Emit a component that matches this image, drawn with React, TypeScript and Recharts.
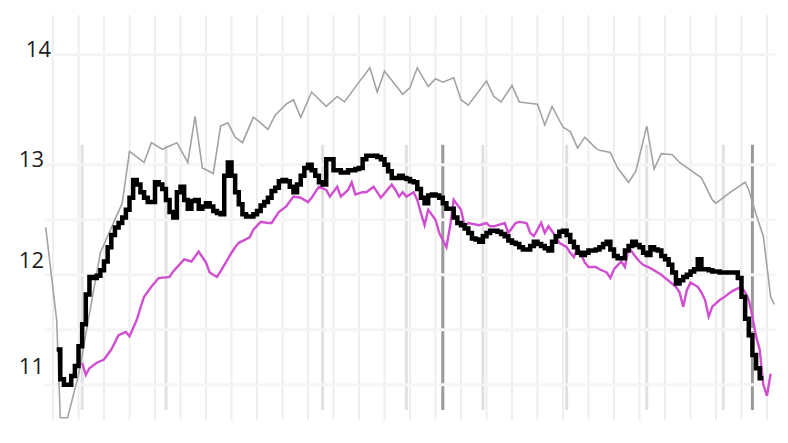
import React from "react";
import { LineChart, Line, XAxis, YAxis, ReferenceLine } from "recharts";

// y-axis tick labels
const yTicks = [11, 12, 13, 14];
// horizontal guide values
const hGrid = [11, 11.5, 12, 12.5, 13, 14];
// weekly vertical grid (day index)
const weekDays = [0, 7, 14, 21, 28, 35, 42, 49, 56, 63, 70, 77, 84, 91, 98, 105, 112, 119, 126, 133, 140, 147, 154, 161, 168, 175, 182, 189, 196];
// event markers (day index)
const lightMarkers = [8, 31, 74, 97, 118, 141, 163, 184];
const darkMarkers = [107, 192];

// grey series
const grayDays = [-2, 1, 2, 4, 7, 13, 19, 21, 25, 27, 30, 34, 37, 39, 41, 44, 46, 48, 50, 52, 55, 57, 59, 61, 64, 66, 68, 71, 75, 78, 80, 84, 87, 89, 91, 96, 98, 100, 103, 105, 107, 110, 112, 114, 119, 121, 123, 126, 128, 133, 135, 137, 140, 142, 144, 146, 149, 150, 153, 155, 158, 160, 163, 165, 167, 170, 172, 178, 181, 182, 186, 190, 191, 193, 195, 197, 198];
const grayValues = [12.43, 11.59, 10.7, 10.7, 11.09, 12.2, 12.65, 13.12, 13.02, 13.2, 13.14, 13.2, 13.02, 13.44, 12.97, 12.92, 13.35, 13.38, 13.25, 13.2, 13.43, 13.38, 13.32, 13.45, 13.55, 13.59, 13.43, 13.66, 13.53, 13.62, 13.57, 13.75, 13.88, 13.66, 13.85, 13.64, 13.7, 13.88, 13.71, 13.78, 13.75, 13.79, 13.59, 13.54, 13.76, 13.62, 13.57, 13.72, 13.57, 13.55, 13.36, 13.53, 13.34, 13.3, 13.15, 13.25, 13.15, 13.13, 13.11, 12.97, 12.84, 12.94, 13.35, 12.96, 13.1, 13.09, 13.02, 12.88, 12.68, 12.65, 12.75, 12.84, 12.77, 12.55, 12.35, 11.8, 11.73];

// black step series (days 1..195)
const blackStartDay = 1;
const blackValues = [
  11.32, 11.05, 11.0, 11.0, 11.08, 11.17, 11.35, 11.55, 11.82, 11.98,
  11.97, 11.99, 12.04, 12.12, 12.25, 12.36, 12.43, 12.47, 12.52, 12.59,
  12.7, 12.86, 12.82, 12.75, 12.7, 12.66, 12.66, 12.84, 12.82, 12.78,
  12.68, 12.57, 12.52, 12.75, 12.8, 12.68, 12.6, 12.67, 12.68, 12.6,
  12.62, 12.65, 12.62, 12.58, 12.56, 12.55, 12.9, 13.02, 12.9, 12.75,
  12.64, 12.55, 12.53, 12.53, 12.55, 12.58, 12.63, 12.66, 12.7, 12.76,
  12.79, 12.85, 12.86, 12.85, 12.8, 12.75, 12.82, 12.9, 12.97, 13.0,
  12.95, 12.9, 12.84, 12.82, 13.05, 13.05, 12.95, 12.95, 12.93, 12.93,
  12.95, 12.95, 12.96, 12.97, 13.05, 13.08, 13.08, 13.08, 13.07, 13.05,
  13.0, 12.94, 12.88, 12.88, 12.9, 12.88, 12.87, 12.85, 12.84, 12.78,
  12.7, 12.65, 12.72, 12.73, 12.72, 12.7, 12.65, 12.6, 12.6, 12.52,
  12.47, 12.45, 12.42, 12.38, 12.33, 12.32, 12.3, 12.35, 12.38, 12.4,
  12.4, 12.39, 12.37, 12.35, 12.31, 12.29, 12.28, 12.25, 12.23, 12.23,
  12.26, 12.3, 12.28, 12.26, 12.24, 12.22, 12.3, 12.35, 12.39, 12.4,
  12.36, 12.3, 12.25, 12.2, 12.18, 12.2, 12.22, 12.22, 12.23, 12.25,
  12.28, 12.3, 12.23, 12.17, 12.15, 12.15, 12.22, 12.26, 12.3, 12.27,
  12.25, 12.2, 12.18, 12.25, 12.23, 12.22, 12.17, 12.14, 12.09, 12.02,
  11.92, 11.95, 11.98, 12.0, 12.03, 12.05, 12.14, 12.05, 12.05, 12.04,
  12.03, 12.03, 12.02, 12.02, 12.02, 12.02, 12.02, 11.97, 11.8, 11.6,
  11.45, 11.27, 11.15, 11.06, 11.06,
];

// magenta series
const magentaDays = [8, 9, 10, 12, 14, 16, 18, 20, 21, 23, 24, 25, 27, 29, 32, 33, 36, 38, 40, 42, 43, 44, 45, 46, 49, 50, 51, 54, 55, 57, 59, 60, 62, 64, 66, 68, 70, 71, 73, 75, 76, 78, 79, 81, 82, 83, 85, 86, 88, 89, 90, 93, 94, 95, 96, 97, 99, 100, 101, 102, 103, 105, 106, 108, 109, 110, 112, 113, 114, 117, 119, 120, 121, 124, 125, 127, 128, 130, 131, 132, 134, 135, 136, 138, 139, 141, 142, 143, 144, 146, 147, 149, 150, 152, 153, 154, 156, 157, 158, 160, 161, 162, 164, 167, 171, 172, 173, 174, 175, 177, 178, 179, 180, 181, 183, 184, 186, 187, 189, 190, 191, 192, 193, 194, 195, 196, 197];
const magentaValues = [11.2, 11.09, 11.15, 11.2, 11.23, 11.32, 11.45, 11.48, 11.44, 11.59, 11.7, 11.8, 11.89, 11.97, 11.98, 12.03, 12.14, 12.12, 12.21, 12.11, 12.02, 12.0, 11.98, 12.03, 12.2, 12.25, 12.29, 12.34, 12.41, 12.48, 12.47, 12.47, 12.57, 12.62, 12.71, 12.7, 12.66, 12.7, 12.8, 12.77, 12.71, 12.8, 12.71, 12.77, 12.84, 12.73, 12.75, 12.75, 12.8, 12.75, 12.7, 12.82, 12.77, 12.71, 12.75, 12.71, 12.75, 12.68, 12.56, 12.45, 12.59, 12.5, 12.38, 12.25, 12.44, 12.68, 12.59, 12.44, 12.47, 12.45, 12.47, 12.44, 12.44, 12.47, 12.38, 12.47, 12.48, 12.47, 12.38, 12.35, 12.47, 12.38, 12.44, 12.35, 12.29, 12.25, 12.2, 12.16, 12.25, 12.11, 12.07, 12.07, 12.05, 12.02, 11.97, 12.05, 12.12, 12.07, 12.25, 12.16, 12.12, 12.09, 12.06, 12.0, 11.89, 11.84, 11.71, 11.86, 11.93, 11.89, 11.84, 11.77, 11.62, 11.71, 11.77, 11.79, 11.84, 11.86, 11.89, 11.84, 11.77, 11.62, 11.44, 11.32, 11.0, 10.9, 11.1];

const grayData = grayDays.map((d, i) => ({ d, v: grayValues[i] }));
const blackData = blackValues.map((v, i) => ({ d: blackStartDay + i, v }));
const magentaData = magentaDays.map((d, i) => ({ d, v: magentaValues[i] }));

// small per-label nudges to match the original label placement
const labelDx: Record<number, number> = { 14: 7, 13: 0, 12: 0, 11: 0 };
const labelDy: Record<number, number> = { 14: 2, 13: 2, 12: -7, 11: -11 };

const YTick = (props: any) => {
  const { x, y, payload } = props;
  return (
    <text
      x={x + (labelDx[payload.value] || 0)}
      y={y + (labelDy[payload.value] || 0)}
      textAnchor="end"
      fontSize={22}
      fontFamily="'Open Sans', sans-serif"
      fill="#1e1e1e"
    >
      {payload.value}
    </text>
  );
};

export default function App() {
  return (
    <div style={{ position: "absolute", left: 0, top: 0, width: 788, height: 443, background: "#fff" }}>
      <LineChart width={788} height={443} margin={{ top: 15, right: 13, bottom: 23, left: 0 }}>
        <XAxis dataKey="d" type="number" domain={[-2.2, 198.2]} hide allowDataOverflow />
        <YAxis
          type="number"
          domain={[10.68, 14.36]}
          ticks={yTicks}
          width={45}
          axisLine={false}
          tickLine={false}
          tickSize={0}
          tickMargin={1}
          tick={<YTick />}
          allowDataOverflow
        />
        {weekDays.map((d) => (
          <ReferenceLine key={"w" + d} x={d} stroke="#eeeeee" strokeWidth={2} />
        ))}
        {lightMarkers.map((d) => (
          <ReferenceLine
            key={"m" + d}
            segment={[{ x: d, y: 13.18 }, { x: d, y: 10.77 }]}
            stroke="#e0e0e0"
            strokeWidth={3}
          />
        ))}
        {darkMarkers.map((d) => (
          <ReferenceLine
            key={"k" + d}
            segment={[{ x: d, y: 13.18 }, { x: d, y: 10.77 }]}
            stroke="#9a9a9a"
            strokeWidth={3}
          />
        ))}
        {hGrid.map((v) => (
          <ReferenceLine key={"h" + v} y={v} stroke="#f5f5f5" strokeWidth={3} />
        ))}
        <Line
          data={grayData}
          dataKey="v"
          type="linear"
          stroke="#a3a3a3"
          strokeWidth={1.6}
          dot={false}
          isAnimationActive={false}
        />
        <Line
          data={magentaData}
          dataKey="v"
          type="linear"
          stroke="#d04fd0"
          strokeWidth={2.4}
          dot={false}
          isAnimationActive={false}
        />
        <Line
          data={blackData}
          dataKey="v"
          type="stepAfter"
          stroke="#000000"
          strokeWidth={4.5}
          dot={false}
          isAnimationActive={false}
        />
      </LineChart>
    </div>
  );
}
